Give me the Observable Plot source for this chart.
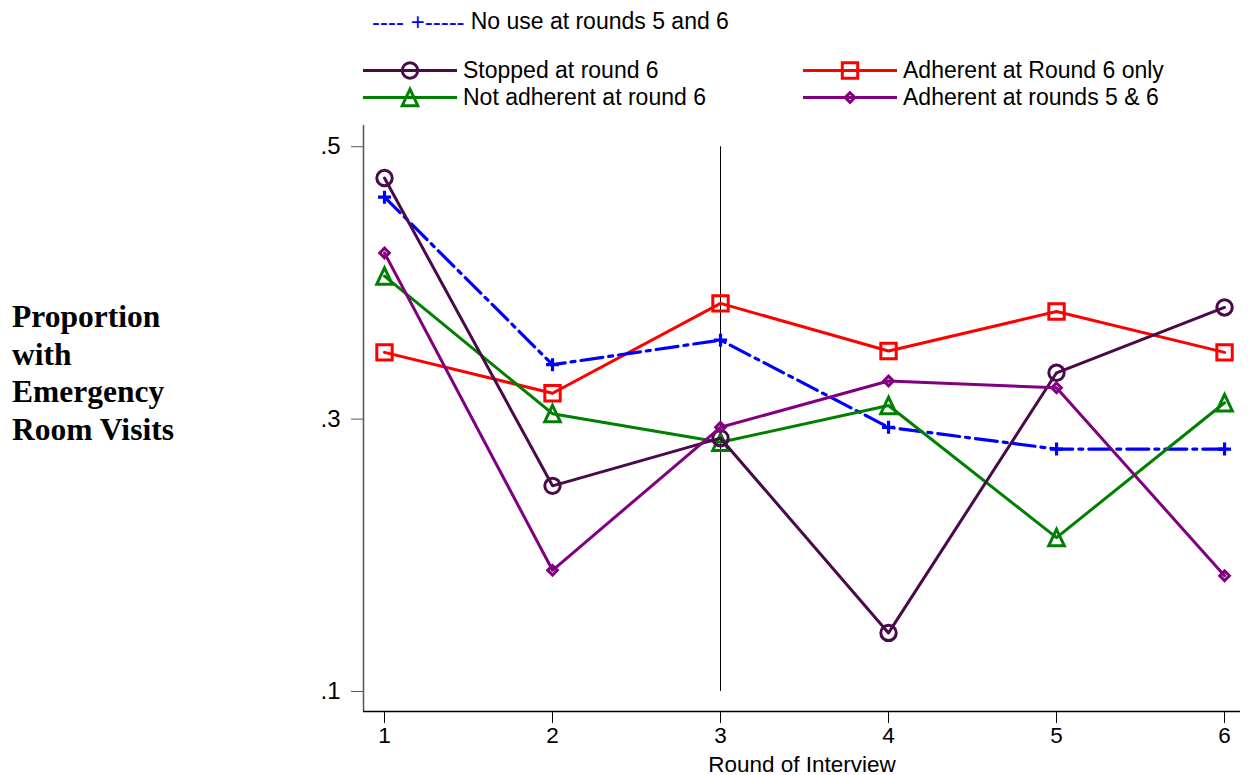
<!DOCTYPE html>
<html><head><meta charset="utf-8">
<script src="https://cdn.jsdelivr.net/npm/d3@7"></script>
<script src="https://cdn.jsdelivr.net/npm/@observablehq/plot@0.6"></script>
<style>
body{margin:0;background:#fff;}
#wrap{position:relative;width:1248px;height:775px;font-family:"Liberation Sans",Arial,sans-serif;}
#chart{position:absolute;left:0;top:0;}
.leg{position:absolute;font-size:23px;line-height:21px;height:21px;white-space:nowrap;color:#000;display:flex;align-items:center;}
.leg svg{display:block;margin-right:6px;}
.leg span{display:block;height:21px;line-height:21px;overflow:visible;}
#ylab{position:absolute;left:12px;top:298px;font-family:"Liberation Serif","Times New Roman",serif;font-weight:bold;font-size:31.5px;line-height:37.7px;color:#000;}
</style></head>
<body>
<div id="wrap">
  <div id="chart"></div>
  <div id="ylab">Proportion<br>with<br>Emergency<br>Room Visits</div>
</div>
<script>
// ---- data ----
const rounds = [1, 2, 3, 4, 5, 6];
const noUse       = [0.463, 0.340, 0.358, 0.294, 0.278, 0.278];
const stopped     = [0.477, 0.251, 0.286, 0.143, 0.334, 0.382];
const notAdherent = [0.405, 0.304, 0.283, 0.310, 0.213, 0.312];
const adherent6   = [0.349, 0.319, 0.385, 0.350, 0.379, 0.349];
const adherent56  = [0.422, 0.189, 0.294, 0.328, 0.323, 0.185];
const seriesNames = ["No use at rounds 5 and 6", "Stopped at round 6", "Not adherent at round 6",
                     "Adherent at Round 6 only", "Adherent at rounds 5 & 6"];
const yTicks = [0.1, 0.3, 0.5];
const xLabel = "Round of Interview";

// ---- symbols ----
const symCircle = {draw(c){ const r = 7.7; c.moveTo(r,0); c.arc(0,0,r,0,2*Math.PI); c.closePath(); }};
const symSquare = {draw(c){ const h = 7.7; c.moveTo(-h,-h); c.lineTo(h,-h); c.lineTo(h,h); c.lineTo(-h,h); c.closePath(); }};
const symTriangle = {draw(c){ c.moveTo(0,-8.3); c.lineTo(7.8,8.2); c.lineTo(-7.8,8.2); c.closePath(); }};
const symDiamond = {draw(c){ const h = 4.8; c.moveTo(0,-h); c.lineTo(h,0); c.lineTo(0,h); c.lineTo(-h,0); c.closePath(); }};
const symPlus = {draw(c){ const h = 6.5; c.moveTo(-h,0); c.lineTo(h,0); c.moveTo(0,-h); c.lineTo(0,h); }};

const series = [
  {name: seriesNames[0], values: noUse,       color: "#0000ff", sym: symPlus,     dash: "22,6,4,6", sw: 3.2},
  {name: seriesNames[1], values: stopped,     color: "#4a0a4a", sym: symCircle,   dash: null, sw: 3},
  {name: seriesNames[2], values: notAdherent, color: "#008000", sym: symTriangle, dash: null, sw: 3},
  {name: seriesNames[3], values: adherent6,   color: "#ff0000", sym: symSquare,   dash: null, sw: 3},
  {name: seriesNames[4], values: adherent56,  color: "#800080", sym: symDiamond,  dash: null, sw: 3}
];

const marks = [];
marks.push(Plot.ruleX([3], {y1: yTicks[0], y2: yTicks[2], stroke: "#000", strokeWidth: 1}));
const drawOrder = [3, 0, 2, 1, 4];
for (const i of drawOrder) {
  const s = series[i];
  const rows = rounds.map((r, j) => ({round: r, value: s.values[j]}));
  marks.push(Plot.line(rows, {x: "round", y: "value", stroke: s.color, strokeWidth: s.sw,
    strokeDasharray: s.dash || undefined}));
  marks.push(Plot.dot(rows, {x: "round", y: "value", symbol: s.sym, r: 5, stroke: s.color,
    strokeWidth: s.sw, fill: "none"}));
}
marks.push(Plot.ruleX([0.875], {stroke: "#555", strokeWidth: 1.5}));
marks.push(Plot.ruleY([0.0853], {stroke: "#000", strokeWidth: 1.5}));
marks.push(Plot.axisY(yTicks, {tickSize: 12, tickPadding: 11, stroke: "#555", fontSize: 24,
  tickFormat: d => d3.format(".1f")(d).replace(/^0/, ""), label: null}));
marks.push(Plot.axisX(rounds, {tickSize: 12, tickPadding: 4, stroke: "#000", fontSize: 22.5,
  tickFormat: d => String(d), label: xLabel, labelAnchor: "center", labelOffset: 60, labelArrow: "none"}));

const chart = Plot.plot({
  width: 1248, height: 775,
  marginTop: 125, marginBottom: 64, marginLeft: 363, marginRight: 8,
  style: {fontFamily: "'Liberation Sans', Arial, sans-serif", fontSize: "24px", color: "#000", background: "#fff"},
  x: {domain: [0.875, 6.095]},
  y: {domain: [0.0853, 0.5156]},
  marks
});
document.getElementById("chart").appendChild(chart);

// ---- legend ----
const wrap = document.getElementById("wrap");
function swatch(s) {
  const svg = d3.create("svg").attr("width", 94).attr("height", 21).style("overflow", "visible");
  svg.append("line").attr("x1", 0).attr("x2", 94).attr("y1", 10.5).attr("y2", 10.5)
    .attr("stroke", s.color).attr("stroke-width", s.sw);
  svg.append("path").attr("transform", "translate(47,10.5)").attr("d", d3.symbol(s.sym)())
    .attr("fill", "none").attr("stroke", s.color).attr("stroke-width", s.sw);
  return svg.node();
}
// first row
{
  const d = document.createElement("div");
  d.className = "leg"; d.style.left = "372px"; d.style.top = "11px";
  const pat = document.createElement("span");
  pat.textContent = "---- +-----"; pat.style.color = "#0000ff"; pat.style.marginRight = "6px";
  pat.style.fontSize = "24px";
  const t = document.createElement("span"); t.textContent = series[0].name;
  d.appendChild(pat); d.appendChild(t); wrap.appendChild(d);
}
const legPos = [[1, 363, 60], [2, 363, 87], [3, 803, 60], [4, 803, 87]];
for (const [i, x, y] of legPos) {
  const d = document.createElement("div");
  d.className = "leg"; d.style.left = x + "px"; d.style.top = y + "px";
  d.appendChild(swatch(series[i]));
  const t = document.createElement("span"); t.textContent = series[i].name;
  d.appendChild(t); wrap.appendChild(d);
}
</script>
</body></html>
